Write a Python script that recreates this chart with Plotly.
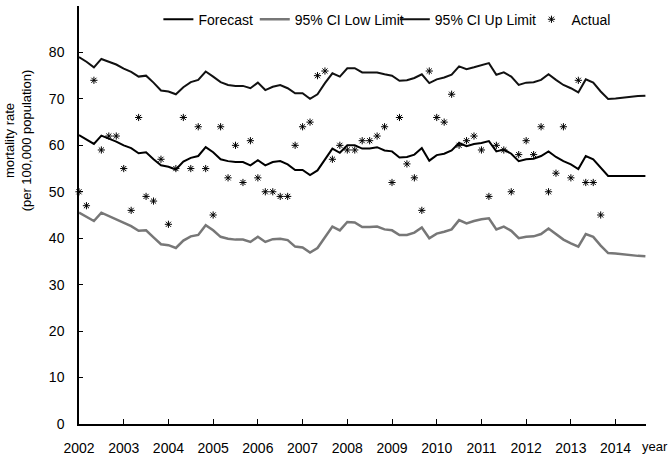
import plotly.graph_objects as go

# bimonthly steps from Jan 2002
steps = list(range(77))
years = [2002 + s / 6 for s in steps]

forecast = [62.2, 61.2, 60.3, 62.1, 61.5, 60.8, 60.0, 59.4, 58.3, 58.5,
            57.0, 55.7, 55.4, 54.8, 56.5, 57.3, 57.7, 59.6, 58.5, 57.0,
            56.6, 56.4, 56.4, 55.7, 56.8, 55.7, 56.4, 56.6, 55.9, 54.7,
            54.7, 53.6, 54.6, 57.0, 59.3, 58.4, 60.0, 60.0, 59.3, 59.3,
            59.6, 58.9, 58.7, 57.4, 57.5, 58.0, 59.4, 56.7, 57.9, 58.2,
            58.9, 60.5, 59.8, 60.3, 60.5, 60.9, 58.7, 59.1, 58.2, 56.6,
            57.0, 57.1, 57.7, 58.7, 57.5, 56.6, 55.9, 54.9, 57.7, 57.0,
            55.2, 53.4, 53.4, 53.4, 53.4, 53.4, 53.4]

ci_low = [45.5, 44.6, 43.7, 45.5, 44.8, 44.0, 43.3, 42.6, 41.6, 41.7,
          40.2, 38.7, 38.5, 37.9, 39.5, 40.4, 40.7, 42.8, 41.7, 40.3,
          39.9, 39.7, 39.7, 39.2, 40.3, 39.2, 39.8, 39.9, 39.6, 38.2,
          38.0, 36.9, 37.9, 40.2, 42.5, 41.7, 43.5, 43.4, 42.4, 42.4,
          42.5, 41.9, 41.7, 40.7, 40.7, 41.2, 42.3, 40.0, 41.0, 41.4,
          41.9, 43.9, 43.2, 43.7, 44.1, 44.3, 41.9, 42.5, 41.6, 40.0,
          40.3, 40.4, 40.9, 42.1, 40.9, 39.7, 38.9, 38.2, 40.9, 40.3,
          38.4, 36.8, 36.7, 36.5, 36.4, 36.2, 36.1]

ci_up = [79.0, 78.0, 76.8, 78.6, 78.0, 77.4, 76.5, 75.8, 74.8, 75.0,
         73.5, 71.8, 71.6, 71.0, 72.5, 73.6, 74.1, 75.9, 74.8, 73.6,
         73.0, 72.8, 72.8, 72.3, 73.5, 71.9, 72.6, 73.0, 72.3, 71.2,
         71.2, 70.0, 71.0, 73.4, 75.5, 74.8, 76.6, 76.6, 75.7, 75.7,
         75.7, 75.3, 75.0, 73.9, 74.0, 74.5, 75.3, 73.4, 74.2, 74.6,
         75.2, 77.0, 76.4, 76.8, 77.3, 77.7, 75.2, 75.7, 74.8, 73.0,
         73.5, 73.6, 74.1, 75.3, 74.1, 73.0, 72.3, 71.4, 74.2, 73.5,
         71.6, 70.0, 70.1, 70.3, 70.4, 70.6, 70.7]

actual = [50, 47, 74, 59, 62, 62, 55, 46, 66, 49,
          48, 57, 43, 55, 66, 55, 64, 55, 45, 64,
          53, 60, 52, 61, 53, 50, 50, 49, 49, 60,
          64, 65, 75, 76, 57, 60, 59, 59, 61, 61,
          62, 64, 52, 66, 56, 53, 46, 76, 66, 65,
          71, 60, 61, 62, 59, 49, 60, 59, 50, 58,
          61, 58, 64, 50, 54, 64, 53, 74, 52, 52,
          45]

year_ticks = list(range(2002, 2015))

font = "Arial, Liberation Sans, sans-serif"

fig = go.Figure()
fig.add_trace(go.Scatter(x=years, y=forecast, name="Forecast", mode="lines",
                         line=dict(color="black", width=2), legend="legend"))
fig.add_trace(go.Scatter(x=years, y=ci_low, name="95% CI Low Limit", mode="lines",
                         line=dict(color="#777777", width=2.5), legend="legend2"))
fig.add_trace(go.Scatter(x=years, y=ci_up, name="95% CI Up Limit", mode="lines",
                         line=dict(color="#111111", width=2), legend="legend3"))
fig.add_trace(go.Scatter(x=years[:len(actual)], y=actual, name="Actual", mode="markers",
                         marker=dict(symbol="asterisk-open", size=6, color="black",
                                     line=dict(color="black", width=1)),
                         cliponaxis=False, legend="legend4"))
fig.update_traces(showlegend=True)

fig.update_xaxes(range=[2002, 2014.68], tickvals=year_ticks, ticktext=[str(y) for y in year_ticks],
                 showline=True, linecolor="black", linewidth=1.5, ticks="inside", ticklen=5,
                 tickcolor="black", showgrid=False, zeroline=False, ticklabelstandoff=10,
                 automargin=False, tickfont=dict(size=14, color="black", family=font))
fig.update_yaxes(range=[0, 90], dtick=10, showline=True, linecolor="black", linewidth=1.5,
                 ticks="inside", ticklen=4, tickcolor="black", showgrid=False, zeroline=False,
                 ticklabelstandoff=10, automargin=False,
                 tickfont=dict(size=14, color="black", family=font))

fig.add_annotation(text="year", x=1.016, y=0, xref="paper", yref="paper",
                   xanchor="center", yanchor="top", yshift=-13, showarrow=False,
                   font=dict(size=13, color="black", family=font))
fig.add_annotation(text="mortality rate<br>(per 100,000 population)", textangle=-90,
                   x=-0.108, y=0.678, xref="paper", yref="paper", xanchor="center",
                   yanchor="middle", showarrow=False,
                   font=dict(size=13, color="black", family=font))

leg = dict(orientation="h", y=0.965, xanchor="left", yanchor="middle",
           bgcolor="rgba(0,0,0,0)", font=dict(size=14))
fig.update_layout(
    width=670, height=456,
    margin=dict(l=79, r=24, t=5, b=32),
    plot_bgcolor="white", paper_bgcolor="white",
    font=dict(family=font, color="black", size=14),
    showlegend=True,
    legend=dict(leg, x=0.14),
    legend2=dict(leg, x=0.31),
    legend3=dict(leg, x=0.557),
    legend4=dict(leg, x=0.798),
)

fig.write_html("out.html", config={"displayModeBar": False},
               post_script="document.body.style.margin='0px';")
